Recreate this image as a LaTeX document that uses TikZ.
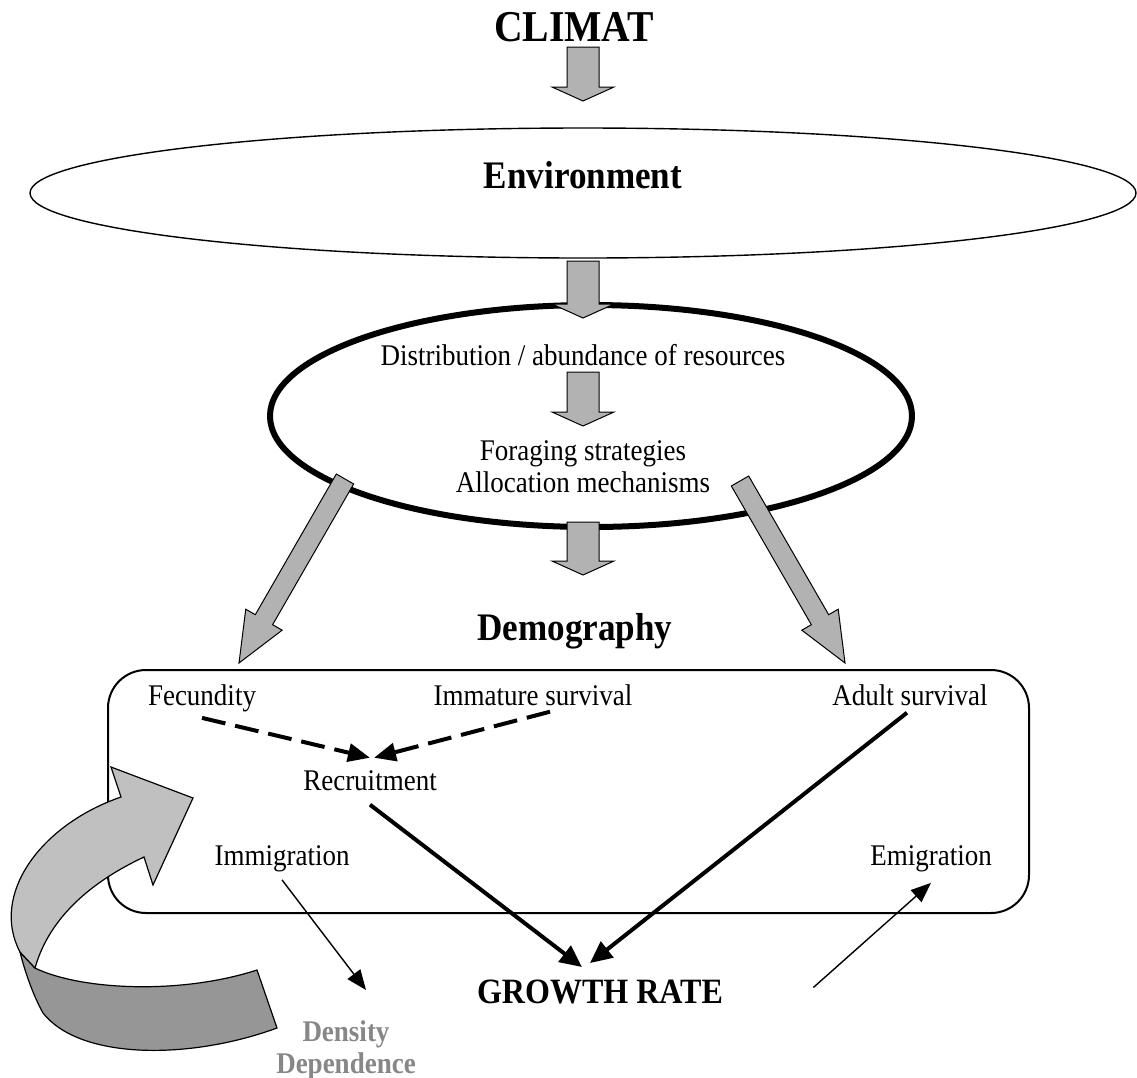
\documentclass[tikz,border=0pt]{standalone}
\usepackage{fontspec}
\setmainfont{Liberation Serif}[FakeStretch=0.9]
\usetikzlibrary{shapes.geometric,arrows.meta,calc}

\definecolor{arrowgray}{RGB}{178,178,178}
\definecolor{bandlight}{RGB}{192,192,192}
\definecolor{banddark}{RGB}{150,150,150}
\definecolor{ddgray}{RGB}{135,135,135}

\begin{document}
\begin{tikzpicture}[x=0.5pt,y=-0.5pt,
  lbl/.style={font=\fontsize{15}{16}\selectfont, inner sep=1pt},
  ttl/.style={font=\fontsize{19.5}{21}\selectfont\bfseries, inner sep=1pt},
  blockfill/.style={fill=arrowgray, draw=black, line width=0.5pt, line join=miter},
  thinarr/.style={line width=0.7pt, -{Triangle[length=10pt,width=8pt]}},
  thickarr/.style={line width=2pt, -{Triangle[length=11pt,width=10pt]}},
  dasharr/.style={line width=2pt, dash pattern=on 12pt off 5pt, -{Triangle[length=11pt,width=9pt]}}]
  \useasboundingbox (0,0) rectangle (1137,1078);

  % climate and environment
  \node[ttl, font=\fontsize{22}{24}\selectfont\bfseries, anchor=base] (climat) at (574,41) {CLIMAT};
  \node[draw, ellipse, line width=0.7pt, minimum width=553pt, minimum height=65pt] (env) at (583,193) {};
  \node[ttl, anchor=base] (envlbl) at (583,188) {Environment};

  % resources ellipse
  \node[draw, ellipse, line width=3pt, minimum width=321pt, minimum height=111pt] (res) at (591,416) {};
  \node[lbl, anchor=base] (distr) at (583,365) {Distribution / abundance of resources};
  \node[lbl, align=center, font=\fontsize{15}{16}\selectfont] (forag) at (583,467) {Foraging strategies\\Allocation mechanisms};

  % demography box
  \node[ttl, anchor=base] (demo) at (575,640) {Demography};
  \node[draw, rounded corners=19pt, line width=1pt, minimum width=460.5pt, minimum height=121.5pt] (box) at (568.5,791.5) {};
  \node[lbl, anchor=base] (fec) at (202,705) {Fecundity};
  \node[lbl, anchor=base] (imm) at (533,705) {Immature survival};
  \node[lbl, anchor=base] (adult) at (910,705) {Adult survival};
  \node[lbl, anchor=base] (rec) at (370,790) {Recruitment};
  \node[lbl, anchor=base] (immig) at (282,865) {Immigration};
  \node[lbl, anchor=base] (emig) at (931,865) {Emigration};
  \node[ttl, font=\fontsize{17.8}{20}\selectfont\bfseries, anchor=base] (growth) at (600,1003) {GROWTH RATE};
  \node[align=center, inner sep=1pt, text=ddgray, font=\fontsize{15}{16}\selectfont\bfseries] (dens) at (346,1050) {Density\\Dependence};

  % block arrows
  \coordinate (c1s) at (583,47);  \coordinate (c1t) at (583,101);
  \coordinate (c2s) at (583,261); \coordinate (c2t) at (583,318);
  \coordinate (c3s) at (583,372); \coordinate (c3t) at (583,426);
  \coordinate (c4s) at (583,522); \coordinate (c4t) at (583,575);
  \coordinate (c5s) at (345,479); \coordinate (c5t) at (239,663);
  \coordinate (c6s) at (740,481); \coordinate (c6t) at (845,663);
  \foreach \s/\t/\hs/\hh/\hl in {c1s/c1t/8pt/15.5pt/7pt, c2s/c2t/8pt/15.5pt/7pt,
      c3s/c3t/8pt/15.5pt/7pt, c4s/c4t/8pt/15.5pt/7pt,
      c5s/c5t/5pt/10.5pt/25pt, c6s/c6t/5pt/10.5pt/25pt}{
    \path (\t) coordinate (tp) ($(\t)!\hl!(\s)$) coordinate (bs);
    \filldraw[blockfill] ($(\s)!\hs!90:(\t)$) -- ($(bs)!\hs!90:(tp)$) -- ($(bs)!\hh!90:(tp)$)
      -- (tp) -- ($(bs)!\hh!-90:(tp)$) -- ($(bs)!\hs!-90:(tp)$) -- ($(\s)!\hs!-90:(\t)$) -- cycle;
  }

  % links inside the box
  \draw[dasharr] ([yshift=-2pt]fec.south) -- ([yshift=5pt]rec.north);
  \draw[dasharr] ([xshift=8.5pt,yshift=-2pt]imm.south) -- ([xshift=2pt,yshift=5pt]rec.north);
  \draw[thickarr] ([yshift=-6pt]rec.south) -- ([xshift=-9pt,yshift=5pt]growth.north);
  \draw[thickarr] ([xshift=-1.5pt,yshift=-2.5pt]adult.south) -- ([xshift=-5pt,yshift=7pt]growth.north);
  \draw[thinarr] ([yshift=-3pt]immig.south) -- ([xshift=10pt,yshift=14pt]dens.north);
  \draw[thinarr] ([xshift=44pt,yshift=2pt]growth.east) -- ([yshift=-4.5pt]emig.south);

  % curved density arrow
  \filldraw[fill=banddark, line width=0.6pt] (20,952) -- (35,968) .. controls (80,990) and (180,995) .. (257,970)
    -- (277,1028) .. controls (190,1060) and (80,1060) .. (43,1013) .. controls (33,995) and (25,972) .. (20,952) -- cycle;
  \filldraw[fill=bandlight, line width=0.6pt] (121,797) -- (111,767) -- (193,798) -- (153,885) -- (144,857)
    .. controls (95,880) and (50,915) .. (35,968) -- (20,952) .. controls (-10,895) and (40,825) .. (121,797) -- cycle;
\end{tikzpicture}
\end{document}
